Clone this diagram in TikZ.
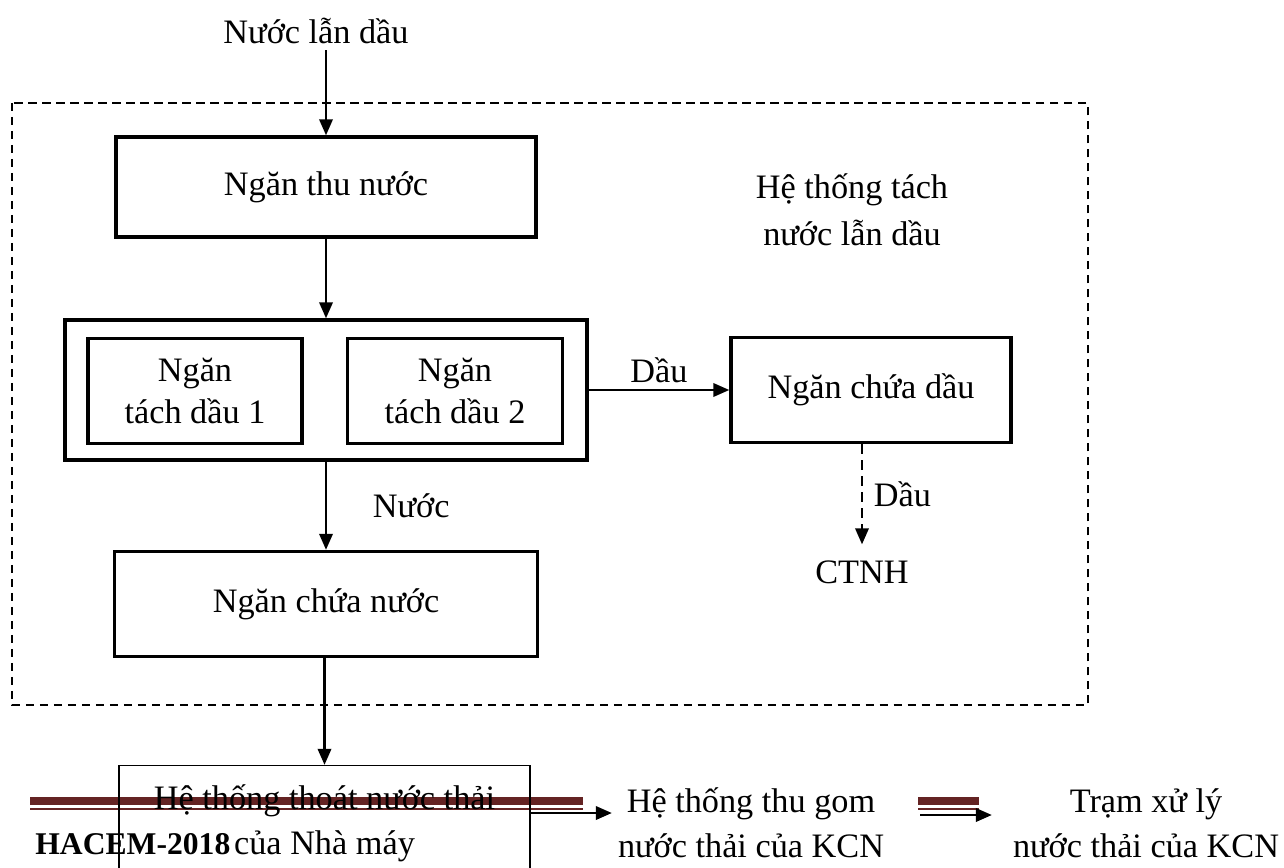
\documentclass[tikz,border=0pt]{standalone}
\usepackage{fontspec}
\setmainfont{Liberation Serif}
\usetikzlibrary{arrows.meta,positioning}

\begin{document}
\begin{tikzpicture}[x=0.02cm,y=-0.02cm,
    every node/.style={font=\fontsize{19.5}{24}\selectfont, align=center},
    tank/.style={draw, line width=2pt, inner sep=0pt},
    flow/.style={line width=1.2pt, -{Triangle[length=0.32cm,width=0.27cm]}},
    oilflow/.style={flow, dash pattern=on 0.2cm off 0.12cm}]
    % Define colors
    \definecolor{footred}{RGB}{100,35,35}

    \clip (0,0) rectangle (1284,868);

    % System boundary
    \draw[line width=1.1pt, dash pattern=on 0.17cm off 0.11cm] (12,103) rectangle (1088,705);
    \node (sys) at (852,210) {Hệ thống tách\\[0.1cm]nước lẫn dầu};

    % Tanks
    \node (src) at (316,31) {Nước lẫn dầu};
    \node[tank, minimum width=8.4cm, minimum height=2cm] (thu) at (326,187) {Ngăn thu nước};
    \node[tank, minimum width=10.44cm, minimum height=2.8cm] (tach) at (326,390) {};
    \node[tank, minimum width=4.28cm, minimum height=2.1cm] (tach1) at (195,391) {Ngăn\\tách dầu 1};
    \node[tank, minimum width=4.3cm, minimum height=2.1cm] (tach2) at (455,391) {Ngăn\\tách dầu 2};
    \node[tank, minimum width=5.6cm, minimum height=2.1cm] (chuadau) at (871,390) {Ngăn chứa dầu};
    \node[tank, minimum width=8.46cm, minimum height=2.1cm] (chuanuoc) at (326,604) {Ngăn chứa nước};
    \node (ctnh) at (862,572) {CTNH};

    % Footer band
    \fill[footred] (30,797) rectangle (583,805);
    \fill[footred] (30,807.5) rectangle (583,809.5);
    \fill[footred] (918,797) rectangle (979,805);
    \fill[footred] (918,807.5) rectangle (979,809.5);
    \node[font=\bfseries\fontsize{18}{20}\selectfont, anchor=base west, inner sep=0pt] (hacem) at (35,854) {HACEM-2018};

    % Outside the system
    \node[draw, line width=0.8pt, minimum width=8.22cm, minimum height=2.3cm,
          font=\fontsize{19.5}{25.5}\selectfont] (thoat) at (324.5,823) {Hệ thống thoát nước thải\\của Nhà máy};
    \node[font=\fontsize{19.5}{25.5}\selectfont] (gom) at (751,823) {Hệ thống thu gom\\nước thải của KCN};
    \node[font=\fontsize{19.5}{25.5}\selectfont] (tram) at (1146,823) {Trạm xử lý\\nước thải của KCN};

    % Flows
    \draw[flow] (src.south -| thu.north) -- (thu.north);
    \draw[flow] (thu.south) -- (tach.north);
    \draw[flow] (tach.east) -- node[above] {Dầu} (chuadau.west);
    \draw[oilflow] (ctnh.north |- chuadau.south) -- node[right, xshift=0.1cm] {Dầu} ([yshift=0.2cm]ctnh.north);
    \draw[flow] (tach.south) -- node[right=0.8cm] {Nước} (chuanuoc.north);
    \draw[flow] (chuanuoc.south -| thoat.north) -- (thoat.north);
    \draw[flow] ([yshift=0.2cm]thoat.east) -- ([yshift=0.2cm]gom.west);
    \draw[flow] ([yshift=0.16cm, xshift=0.6cm]gom.east) -- ([yshift=0.16cm, xshift=-0.3cm]tram.west);
\end{tikzpicture}
\end{document}
